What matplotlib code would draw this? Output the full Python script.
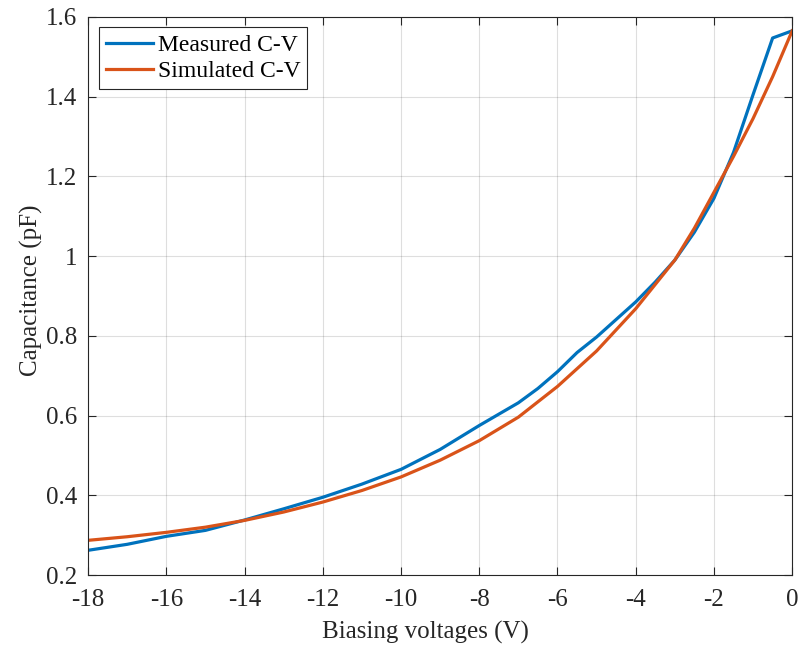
import matplotlib
matplotlib.use('Agg')
import matplotlib.pyplot as plt

# measured C-V
v_meas = [-18, -17, -16, -15, -14, -13, -12, -11, -10, -9, -8, -7, -6.5, -6, -5.5, -5,
          -4, -3.5, -3, -2.5, -2, -1.5, -1, -0.5, 0]
c_meas = [0.262, 0.277, 0.297, 0.312, 0.338, 0.366, 0.395, 0.428, 0.465, 0.515, 0.575,
          0.632, 0.668, 0.710, 0.758, 0.797, 0.885, 0.935, 0.990, 1.060, 1.145, 1.260,
          1.405, 1.547, 1.565]

# simulated C-V
v_sim = [-18, -17, -16, -15, -14, -13, -12, -11, -10, -9, -8, -7, -6, -5, -4, -3,
         -2.5, -2, -1.5, -1, -0.5, 0]
c_sim = [0.287, 0.296, 0.307, 0.320, 0.337, 0.358, 0.383, 0.412, 0.446, 0.488, 0.537,
         0.596, 0.673, 0.762, 0.868, 0.990, 1.070, 1.160, 1.250, 1.345, 1.450, 1.565]

x_ticks = [-18, -16, -14, -12, -10, -8, -6, -4, -2, 0]
y_ticks = [0.2, 0.4, 0.6, 0.8, 1.0, 1.2, 1.4, 1.6]
y_tick_labels = ['0.2', '0.4', '0.6', '0.8', '1', '1.2', '1.4', '1.6']

plt.rcParams['font.family'] = ['Liberation Serif', 'DejaVu Serif']

fig = plt.figure(figsize=(8.01, 6.49), dpi=100)
ax = fig.add_axes([0.110, 0.114, 0.879, 0.860])

ax.plot(v_meas, c_meas, color='#0072BD', lw=2.3, label='Measured C-V')
ax.plot(v_sim, c_sim, color='#D95319', lw=2.3, label='Simulated C-V')

ax.set_xlim(-18, 0)
ax.set_ylim(0.2, 1.6)
ax.set_xticks(x_ticks)
ax.set_xticklabels([str(t) for t in x_ticks])
ax.set_yticks(y_ticks)
ax.set_yticklabels(y_tick_labels)
ax.tick_params(direction='in', top=True, right=True, length=6, width=0.8,
               color='#262626', labelsize=18, labelcolor='#262626')
ax.tick_params(axis='x', pad=10)
ax.tick_params(axis='y', pad=8)
ax.grid(True, color='#262626', alpha=0.15, lw=0.8)
for s in ax.spines.values():
    s.set_color('#262626')
    s.set_linewidth(0.8)

ax.set_xlabel('Biasing voltages (V)', fontsize=18, color='#262626')
ax.set_ylabel('Capacitance (pF)', fontsize=18, color='#262626')
ax.xaxis.set_label_coords(0.479, -0.082)
ax.yaxis.set_label_coords(-0.064, 0.511)

leg = ax.legend(loc='upper left', fontsize=17, fancybox=False, framealpha=1,
                edgecolor='#262626', handlelength=2.0, borderpad=0.3,
                labelspacing=0.2, handletextpad=0.2, borderaxespad=0.45)
leg.get_frame().set_linewidth(0.8)

fig.savefig('out.png', dpi=100)
